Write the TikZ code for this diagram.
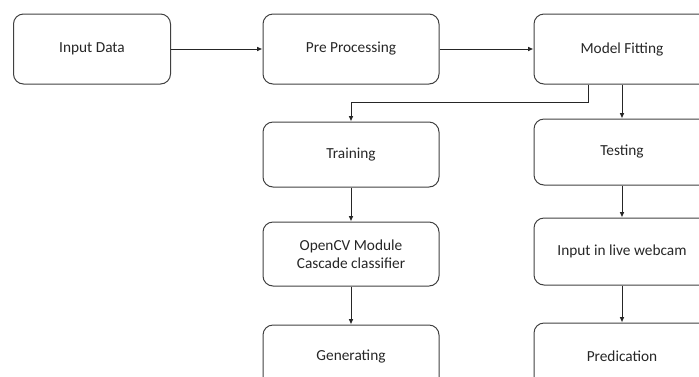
\documentclass[tikz,border=0pt]{standalone}
\usepackage{fontspec}
\setmainfont{Carlito}
\usetikzlibrary{arrows.meta}
\definecolor{boxline}{HTML}{404040}
\definecolor{txt}{HTML}{262626}
\tikzset{
  flowbox/.style={draw=boxline, line width=0.75pt, rounded corners=7.5pt, rectangle,
    minimum width=132pt, text=txt, font=\fontsize{11.5pt}{13.5pt}\selectfont, align=center, inner sep=0pt},
  flowarrow/.style={draw=black!85, line width=0.75pt, -{Latex[length=4pt,width=3.5pt]}}
}
\begin{document}
\begin{tikzpicture}[x=0.75pt,y=-0.75pt]
\useasboundingbox (0,0) rectangle (699,376);
\clip (0,0) rectangle (699,376);
\node[flowbox, minimum width=117.75pt, minimum height=52.5pt] (in) at (92,49) {Input Data};
\node[flowbox, minimum height=52.5pt] (pre) at (351,49) {Pre Processing};
\node[flowbox, minimum height=52.5pt] (fit) at (622,49) {Model Fitting};
\node[flowbox, minimum height=48.75pt] (train) at (351,154.5) {Training};
\node[flowbox, minimum height=49.5pt] (test) at (622,152) {Testing};
\node[flowbox, minimum height=48pt] (cv) at (351,254) {OpenCV Module\\Cascade classifier};
\node[flowbox, minimum height=50.25pt] (cam) at (622,251.5) {Input in live webcam};
\node[flowbox, minimum height=48pt] (gen) at (351,357) {Generating};
\node[flowbox, minimum height=49.5pt] (pred) at (622,356) {Predication};
\draw[flowarrow] (in.east) -- (pre.west);
\draw[flowarrow] (pre.east) -- (fit.west);
\draw[flowarrow] (fit.south -| 588,0) -- (588,102) -- (351,102) -- (train.north);
\draw[flowarrow] (fit.south) -- (test.north);
\draw[flowarrow] (train.south) -- (cv.north);
\draw[flowarrow] (cv.south) -- (gen.north);
\draw[flowarrow] (test.south) -- (cam.north);
\draw[flowarrow] (cam.south) -- (pred.north);
\end{tikzpicture}
\end{document}
